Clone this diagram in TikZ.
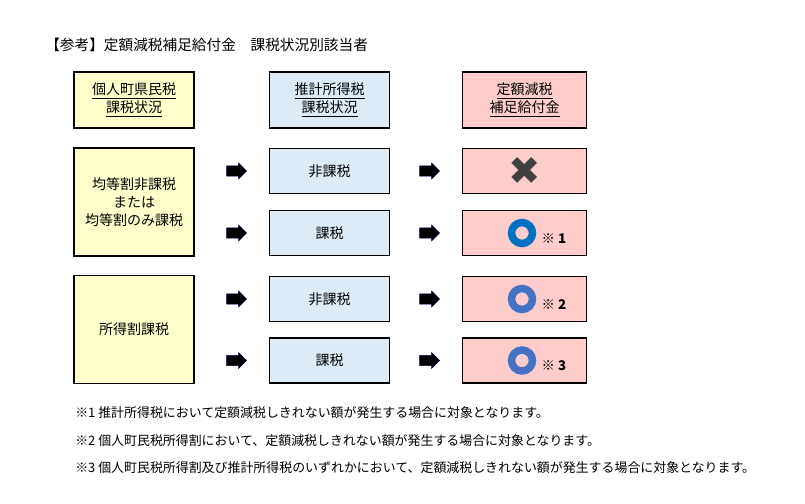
\documentclass[tikz,border=0pt]{standalone}
\usepackage{fontspec}
\setmainfont{Noto Sans CJK JP}
\newfontfamily\symfont{DejaVu Sans}
\usetikzlibrary{shapes.arrows}
\definecolor{kyellow}{HTML}{FFFFCC}
\definecolor{kblue}{HTML}{DDEBF7}
\definecolor{kpink}{HTML}{FFCCCC}
\definecolor{kring}{HTML}{0070C0}
\definecolor{kringb}{HTML}{4472C4}
\tikzset{
  box/.style={rectangle, draw, line width=1.2pt, minimum height=45pt, minimum width=90pt, font=\fontsize{10.5}{13.5}\selectfont, align=center},
  tall/.style={box, minimum height=81pt},
  barrow/.style={single arrow, draw=black!70!blue, fill=black, minimum height=15pt, minimum width=12pt, single arrow head extend=1.5pt, single arrow head indent=0pt, inner sep=2.5pt},
  note/.style={anchor=west, font=\fontsize{9.7}{11}\selectfont, inner sep=0pt},
}
\begin{document}
\begin{tikzpicture}[x=0.75pt, y=-0.75pt]
  \useasboundingbox (0,0) rectangle (805,503);
  % Title
  \node (title) [anchor=west, inner sep=0pt, font=\fontsize{11}{12}\selectfont] at (45, 45) {【参考】定額減税補足給付金\quad 課税状況別該当者};
  % Headers
  \node (hlocal) [box, fill=kyellow, minimum height=42pt] at (134, 100) {\underline{個人町県民税}\\\underline{課税状況}};
  \node (hest) [box, fill=kblue, minimum height=42pt] at (329.5, 100) {\underline{推計所得税}\\\underline{課税状況}};
  \node (hbenefit) [box, fill=kpink, minimum height=42pt, minimum width=93pt] at (524.5, 100) {\underline{定額減税}\\\underline{補足給付金}};
  % Left groups
  \node (equal) [tall, fill=kyellow] at (134, 202) {均等割非課税\\または\\均等割のみ課税};
  \node (income) [tall, fill=kyellow] at (134, 329.5) {所得割課税};
  % Rows
  \foreach \i/\y/\t in {1/171/非課税, 2/233/課税, 3/299/非課税, 4/360.5/課税}{
    \node (mid\i) [box, fill=kblue, minimum height=34pt] at (329.5, \y) {\t};
    \node (res\i) [box, fill=kpink, minimum height=34pt, minimum width=93pt] at (524.5, \y) {};
    \node (arl\i) [barrow] at (234, \y) {};
    \node (arr\i) [barrow] at (427, \y) {};
  }
  % Marks
  \node (cross) [font=\fontsize{29}{29}\selectfont\symfont, text=black!75, inner sep=0pt] at (res1) {✖};
  \draw[kring, line width=5.6pt] (522, 233) circle (10.5);
  \draw[kringb, line width=5.6pt] (522, 299) circle (10.5);
  \draw[kringb, line width=5.6pt] (522, 360.5) circle (10.5);
  \node (n1) [anchor=west, font=\fontsize{10}{10}\selectfont\bfseries] at (537, 239) {※ 1};
  \node (n2) [anchor=west, font=\fontsize{10}{10}\selectfont\bfseries] at (537, 305) {※ 2};
  \node (n3) [anchor=west, font=\fontsize{10}{10}\selectfont\bfseries] at (537, 366) {※ 3};
  % Notes
  \node (note1) [note] at (75, 413) {※1 推計所得税において定額減税しきれない額が発生する場合に対象となります。};
  \node (note2) [note] at (75, 441) {※2 個人町民税所得割において、定額減税しきれない額が発生する場合に対象となります。};
  \node (note3) [note] at (75, 468) {※3 個人町民税所得割及び推計所得税のいずれかにおいて、定額減税しきれない額が発生する場合に対象となります。};
\end{tikzpicture}
\end{document}
